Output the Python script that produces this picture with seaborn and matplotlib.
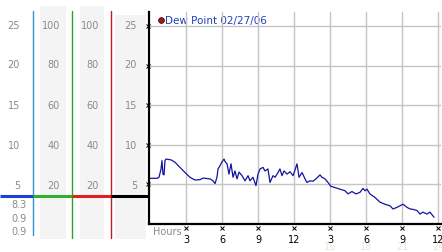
import matplotlib
matplotlib.use("Agg")
import matplotlib.pyplot as plt
import seaborn as sns
import pandas as pd
from matplotlib.patches import Rectangle
from matplotlib.lines import Line2D

sns.set_style("white")
plt.rcParams['font.family'] = ['DejaVu Sans']

# ---- data ----
hours = [0.0, 0.58, 0.75, 0.92, 1.0, 1.08, 1.17, 1.25, 1.33, 1.75, 2.08, 2.5, 2.92,
         3.33, 3.75, 4.17, 4.42, 4.58, 5.0, 5.25, 5.42, 5.58, 5.67, 5.83, 6.0, 6.17,
         6.25, 6.42, 6.58, 6.75, 6.92, 7.08, 7.25, 7.42, 7.67, 7.92, 8.17, 8.33, 8.58,
         8.83, 9.0, 9.17, 9.42, 9.58, 9.83, 10.0, 10.25, 10.42, 10.67, 10.83, 11.0,
         11.17, 11.42, 11.67, 11.92, 12.08, 12.25, 12.42, 12.67, 12.92, 13.08, 13.33,
         13.58, 13.83, 14.17, 14.33, 14.58, 14.83, 15.08, 15.42, 15.83, 16.25, 16.5,
         16.83, 17.17, 17.5, 17.75, 17.92, 18.08, 18.33, 18.75, 19.17, 19.58, 20.0,
         20.25, 20.58, 20.83, 21.08, 21.42, 21.67, 21.92, 22.25, 22.5, 22.75, 23.08,
         23.33, 23.67]
dew_point = [5.77, 5.77, 5.9, 6.95, 8.0, 6.3, 6.2, 8.0, 8.2, 8.1, 7.8, 7.15, 6.5,
             5.9, 5.55, 5.6, 5.8, 5.77, 5.7, 5.45, 5.1, 5.9, 6.95, 7.35, 7.85, 8.2,
             7.9, 7.6, 6.3, 7.6, 5.9, 6.7, 5.7, 6.55, 6.1, 5.45, 6.1, 5.45, 5.9,
             4.85, 6.3, 6.95, 7.15, 6.7, 6.95, 5.25, 6.1, 5.9, 6.5, 6.95, 6.1,
             6.7, 6.3, 6.6, 6.1, 6.8, 7.6, 5.9, 6.5, 5.7, 5.25, 5.45,
             5.4, 5.7, 6.2, 5.9, 5.7, 5.25, 4.75, 4.6, 4.4, 4.2, 3.8,
             4.1, 3.8, 4.0, 4.5, 4.2, 4.4, 3.8, 3.35, 2.75, 2.5, 2.3,
             1.9, 2.1, 2.3, 2.5, 2.1, 1.9, 1.85, 1.7, 1.25, 1.5, 1.25,
             1.5, 0.85]
x_ticks = [3, 6, 9, 12, 15, 18, 21, 24]
x_tick_labels = ["3", "6", "9", "12", "3", "6", "9", "12"]
x_faint_ticks = [15, 18, 21, 24]
x_faint_labels = ["15", "18", "21", "24"]
y_ticks = [5, 10, 15, 20, 25]
col1_labels = ["25", "20", "15", "10", "5"]
col2_labels = ["100", "80", "60", "40", "20"]
col3_labels = ["100", "80", "60", "40", "20"]
col4_labels = ["25", "20", "15", "10", "5"]
bottom_values = ["8.3", "0.9", "0.9"]
legend_label = "Dew Point 02/27/06"

W, H = 442, 253
fig = plt.figure(figsize=(W / 100, H / 100), dpi=100)

def fx(px):
    return px / W

def fy(py):
    return 1 - py / H

# overlay axes in pixel coords for the left strip and annotations
ov = fig.add_axes([0, 0, 1, 1])
ov.set_xlim(0, W)
ov.set_ylim(H, 0)
ov.axis("off")

# main axes: px x 149..441, y 13..225
ax = fig.add_axes([fx(149), fy(225), fx(441) - fx(149), fy(13) - fy(225)])
ax.patch.set_alpha(0)
df = pd.DataFrame({"hours": hours, "dew": dew_point})
sns.lineplot(data=df, x="hours", y="dew", ax=ax, color="#1414a0", linewidth=0.9)
ax.set_xlim(-0.083, 24.25)
ax.set_ylim(0, 26.77)
ax.set_xlabel("")
ax.set_ylabel("")
ax.set_xticks(x_ticks)
ax.set_xticklabels(x_tick_labels, fontsize=7, color="black")
ax.set_yticks(y_ticks)
ax.set_yticklabels([])
ax.tick_params(axis="both", length=0)
ax.tick_params(axis="x", pad=7)
ax.grid(True, color="#c4c4c4", linewidth=1)
ax.set_axisbelow(True)
for s in ["top", "right"]:
    ax.spines[s].set_visible(False)
for s in ["left", "bottom"]:
    ax.spines[s].set_color("black")
    ax.spines[s].set_linewidth(1.6)
# small x marks
ax.plot(x_ticks, [-0.55] * len(x_ticks), linestyle="none", marker="x",
        markersize=2.2, markeredgewidth=0.7, color="black", clip_on=False)
ax.plot([-0.2] * len(y_ticks), y_ticks, linestyle="none", marker="x",
        markersize=2.2, markeredgewidth=0.7, color="black", clip_on=False)
for t, lab in zip(x_faint_ticks, x_faint_labels):
    ax.text(t, -2.75, lab, ha="center", va="center", fontsize=7,
            color="#e6e6d6", zorder=0)

for (x0, x1, y0, y1) in [(40, 66, 7, 240), (80, 104, 7, 240), (115, 146, 16, 240)]:
    ov.add_patch(Rectangle((x0, y0), x1 - x0, y1 - y0, facecolor="#f4f4f4",
                           edgecolor="none", zorder=0))

label_y = [26, 65, 106, 146, 186]
for labels, xr in [(col1_labels, 20), (col2_labels, 60), (col3_labels, 99),
                   (col4_labels, 137)]:
    for lab, yy in zip(labels, label_y):
        ov.text(xr, yy, lab, ha="right", va="center", fontsize=7,
                color="#8a8a8a")
for lab, yy in zip(bottom_values, [205, 219, 232]):
    ov.text(27, yy, lab, ha="right", va="center", fontsize=7, color="#8a8a8a")

# vertical colored lines
ov.add_line(Line2D([33, 33], [12, 236], color="#2e95d0", linewidth=1))
ov.add_line(Line2D([72, 72], [12, 239], color="#2ea02e", linewidth=1))
ov.add_line(Line2D([111, 111], [12, 239], color="#b82020", linewidth=1))
# horizontal colored gauge line
ov.add_line(Line2D([0, 33], [197, 197], color="#1a40d8", linewidth=2.2, solid_capstyle="butt"))
ov.add_line(Line2D([33, 72], [197, 197], color="#30b030", linewidth=2.2, solid_capstyle="butt"))
ov.add_line(Line2D([72, 111], [197, 197], color="#e02020", linewidth=2.2, solid_capstyle="butt"))
ov.add_line(Line2D([111, 149], [197, 197], color="black", linewidth=2.2, solid_capstyle="butt"))

# legend
ov.plot([160.5], [21], marker="o", markersize=4.2, color="#a01818",
        markeredgecolor="#300000", markeredgewidth=0.5, linestyle="none")
ov.text(165, 21, legend_label, ha="left", va="center", fontsize=7.5,
        color="#2040b8")
# Hours label
ov.text(153, 232, "Hours", ha="left", va="center", fontsize=7, color="#8a8a8a")

fig.savefig("out.png", dpi=100)
